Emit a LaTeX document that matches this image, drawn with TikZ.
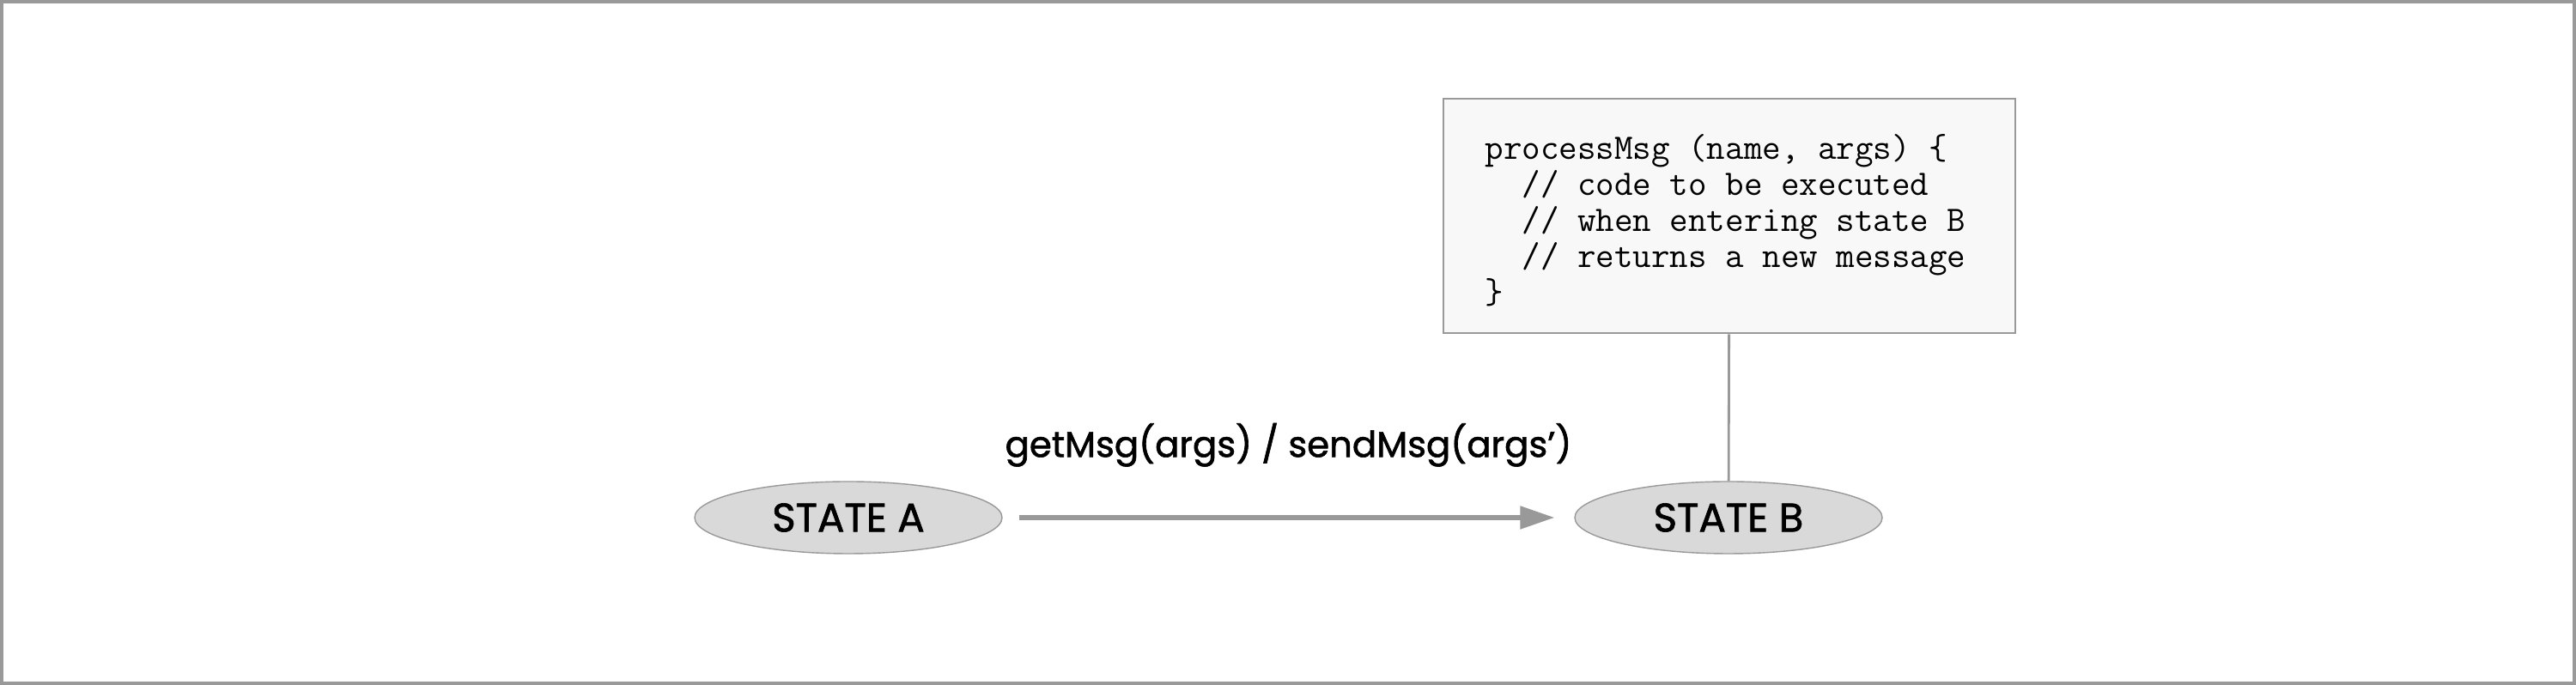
\documentclass[tikz,border=0pt]{standalone}
\usepackage{fontspec}
\setmainfont{Poppins}
\newfontfamily\statefont{Poppins}[FakeBold=1.5]
\usepackage{tikz}
\usetikzlibrary{calc,arrows.meta,shapes.geometric}

\definecolor{linegray}{HTML}{999999}
\definecolor{statefill}{HTML}{D9D9D9}
\definecolor{codefill}{HTML}{F8F8F8}

\begin{document}
\begin{tikzpicture}
            \useasboundingbox (0, 0) rectangle (30, 7.98);
            \draw [linegray, line width=1pt] (0.02, 0.02) rectangle (29.98, 7.96);

            \node [draw=linegray, fill=statefill, ellipse, minimum width=3.58cm, minimum height=0.84cm, font=\statefont\fontsize{13.3pt}{15pt}\selectfont] (A) at (9.88, 1.95) {STATE A};
            \node [draw=linegray, fill=statefill, ellipse, minimum width=3.58cm, minimum height=0.84cm, font=\statefont\fontsize{13.3pt}{15pt}\selectfont] (B) at ($(A) + (10.25, 0)$) {STATE B};
            \node [draw=linegray, fill=codefill, line width=0.8pt, minimum width=6.66cm, minimum height=2.73cm, font=\ttfamily\fontsize{11.9pt}{11.95pt}\selectfont] (code) at ($(B) + (0.01, 3.515)$) {\begin{tabular}{@{}l@{\hspace{0.09cm}}}
\noalign{\vskip 0.2cm}
processMsg (name, args) \{\\
\ \ // code to be executed\\
\ \ // when entering state B\\
\ \ // returns a new message\\
\}
\end{tabular}};

            \draw [linegray, line width=0.8pt] (code) -- (B);
            \draw [-{Triangle[length=0.4cm, width=0.26cm]}, linegray, line width=1.5pt, shorten <=0.19cm, shorten >=0.23cm] (A) -- node [above=0.45cm, black, font=\statefont\fontsize{11.9pt}{14pt}\selectfont] {getMsg(args) / sendMsg(args’)} (B);
        \end{tikzpicture}
\end{document}
